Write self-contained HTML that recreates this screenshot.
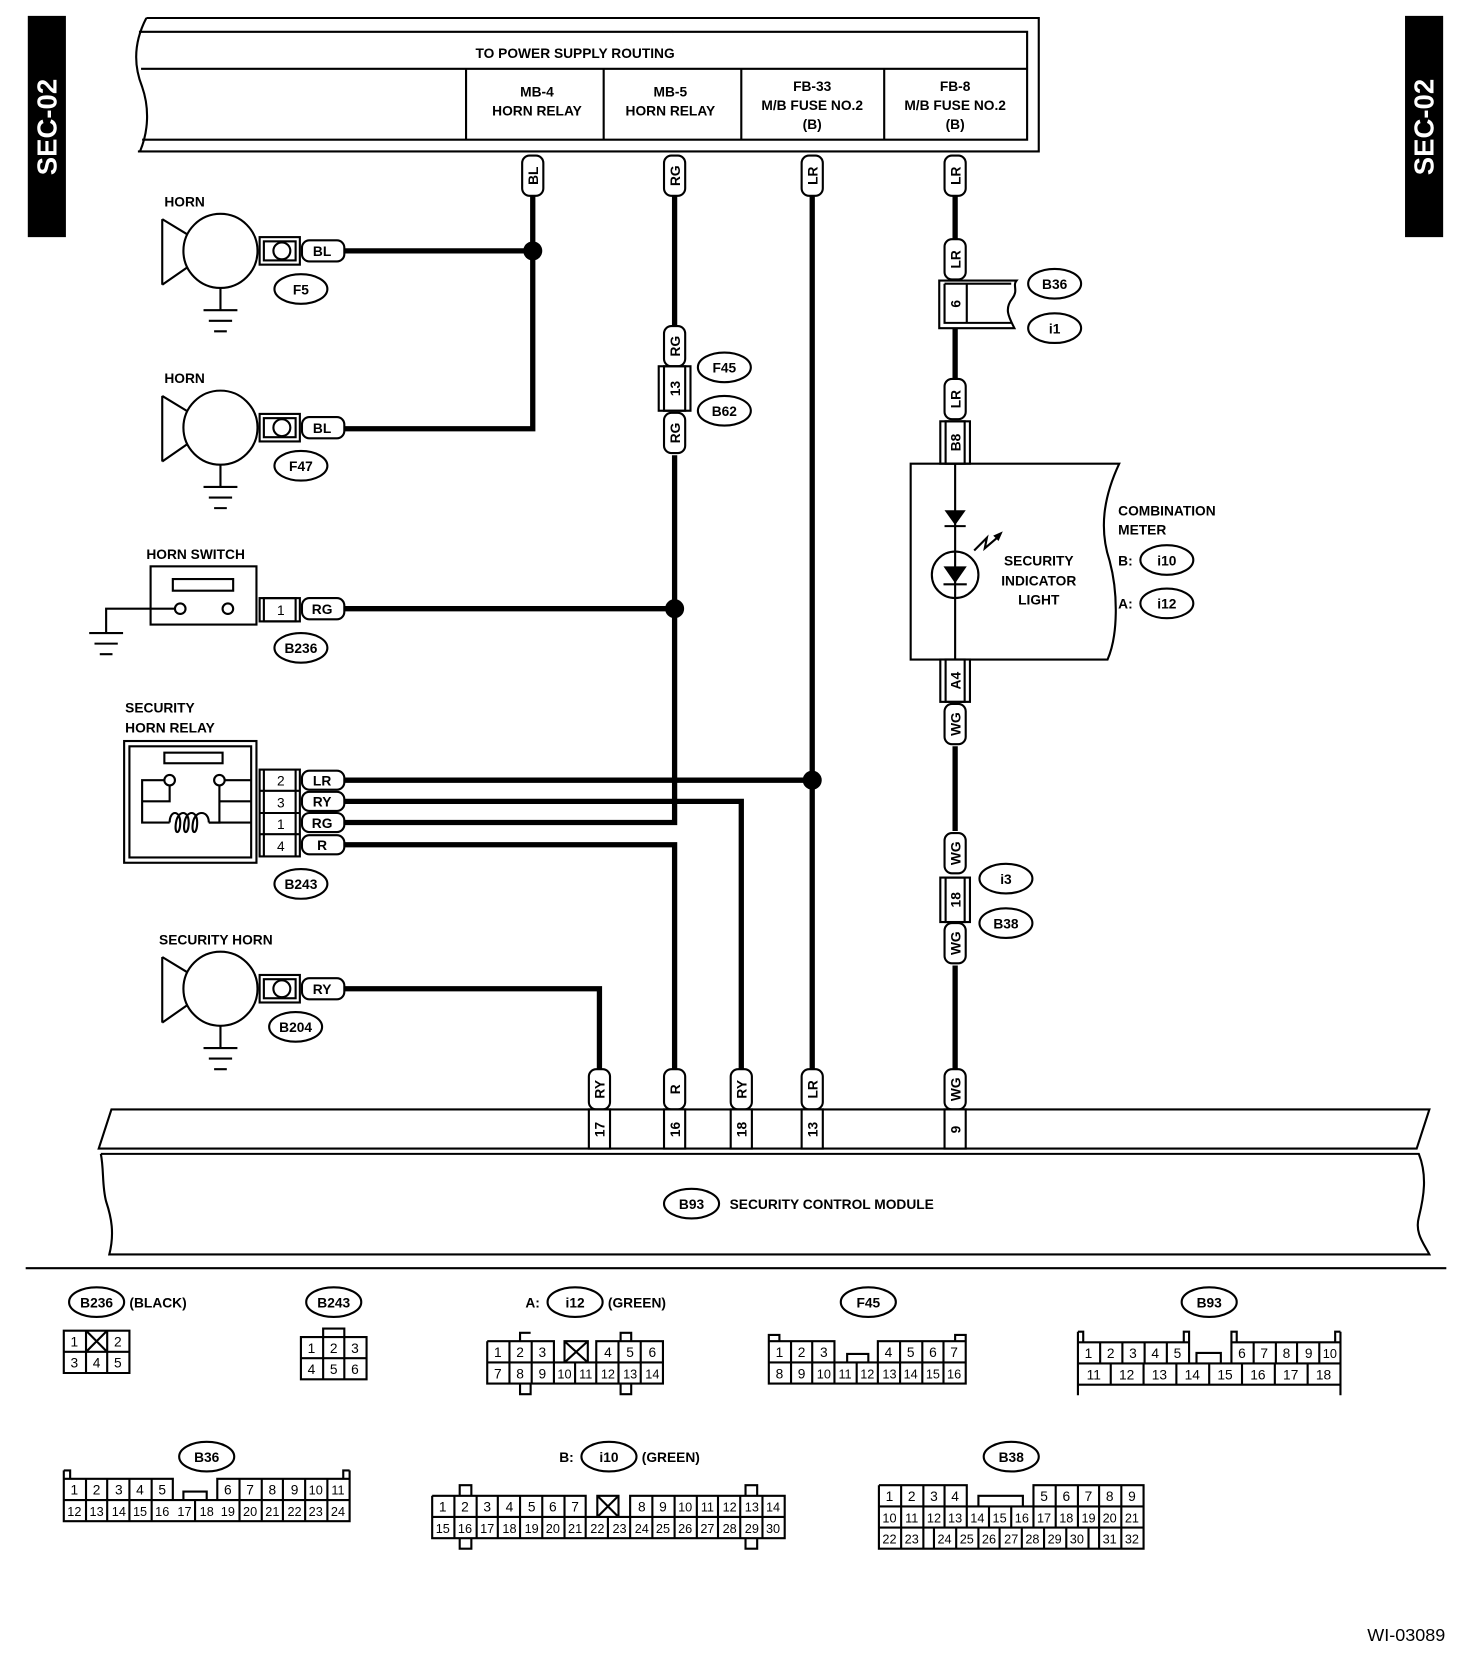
<!DOCTYPE html>
<html><head><meta charset="utf-8"><style>
html,body{margin:0;padding:0;background:#fff}
svg{display:block}
text{font-family:"Liberation Sans",sans-serif;font-size:14px;fill:#000;font-weight:bold}
.s{fill:none;stroke:#000;stroke-width:2}
.w{fill:none;stroke:#000;stroke-width:5}
.p{fill:#fff;stroke:#000;stroke-width:2}
.t{font-size:13px}
.c{font-size:13px;font-weight:normal}
</style></head><body>
<svg width="1472" height="1662" viewBox="0 0 1390 1570" xmlns="http://www.w3.org/2000/svg">
<defs>
<g id="horn">
<circle cx="0" cy="0" r="35" class="s"/>
<path class="s" d="M-55,-30 L-55,32 M-55,-30 L-32,-16 M-55,32 L-32,16 M0,35 L0,56 M-16,56 L16,56 M-11,66 L11,66 M-6,76 L6,76"/>
<rect x="37" y="-13" width="38" height="26" class="p"/>
<rect x="41" y="-9" width="30" height="18" class="s"/>
<circle cx="58" cy="0" r="8" class="s"/>
<rect x="77" y="-10" width="40" height="20" rx="7" class="p"/>
</g>
<rect id="pv" x="-10" y="0" width="20" height="38" rx="7" class="p"/>
</defs>

<rect x="26" y="15" width="36" height="209" fill="#000"/>
<text transform="translate(53,120) rotate(-90)" text-anchor="middle" style="font-size:26px;fill:#fff">SEC-02</text>
<rect x="1327" y="15" width="36" height="209" fill="#000"/>
<text transform="translate(1354,120) rotate(-90)" text-anchor="middle" style="font-size:26px;fill:#fff">SEC-02</text>

<path class="s" d="M138,17 L981,17 L981,143 L130,143 M138,17 C126,40 126,62 134,82 C141,102 140,124 132,143"/>
<path class="s" d="M131,30 L970,30 L970,132 L134,132 M133,65 L970,65 M440,65 L440,132 M570,65 L570,132 M700,65 L700,132 M835,65 L835,132"/>
<text x="543" y="55" text-anchor="middle" class="t">TO POWER SUPPLY ROUTING</text>
<text x="507" y="91" text-anchor="middle" class="t">MB-4</text><text x="507" y="109" text-anchor="middle" class="t">HORN RELAY</text>
<text x="633" y="91" text-anchor="middle" class="t">MB-5</text><text x="633" y="109" text-anchor="middle" class="t">HORN RELAY</text>
<text x="767" y="86" text-anchor="middle" class="t">FB-33</text><text x="767" y="104" text-anchor="middle" class="t">M/B FUSE NO.2</text><text x="767" y="122" text-anchor="middle" class="t">(B)</text>
<text x="902" y="86" text-anchor="middle" class="t">FB-8</text><text x="902" y="104" text-anchor="middle" class="t">M/B FUSE NO.2</text><text x="902" y="122" text-anchor="middle" class="t">(B)</text>

<path class="w" d="M503,185 L503,405 L325,405 M325,237 L503,237"/>
<path class="w" d="M637,185 L637,310 M637,430 L637,777 L325,777 M325,575 L637,575"/>
<path class="w" d="M767,185 L767,1010 M325,737 L767,737"/>
<path class="w" d="M325,757 L700,757 L700,1010"/>
<path class="w" d="M325,798 L637,798 L637,1010"/>
<path class="w" d="M325,934 L566,934 L566,1010"/>
<path class="w" d="M902,185 L902,228 M902,310 L902,358 M902,705 L902,785 M902,912 L902,1010"/>
<circle cx="503" cy="237" r="9"/><circle cx="637" cy="575" r="9"/><circle cx="767" cy="737" r="9"/>

<use href="#pv" x="503" y="147"/><text transform="translate(503,166) rotate(-90)" text-anchor="middle" dy="5" class="t">BL</text>
<use href="#pv" x="637" y="147"/><text transform="translate(637,166) rotate(-90)" text-anchor="middle" dy="5" class="t">RG</text>
<use href="#pv" x="767" y="147"/><text transform="translate(767,166) rotate(-90)" text-anchor="middle" dy="5" class="t">LR</text>
<use href="#pv" x="902" y="147"/><text transform="translate(902,166) rotate(-90)" text-anchor="middle" dy="5" class="t">LR</text>

<use href="#pv" x="637" y="308"/><text transform="translate(637,327) rotate(-90)" text-anchor="middle" dy="5" class="t">RG</text>
<rect x="622" y="346" width="30" height="42" class="p"/><rect x="627" y="346" width="20" height="42" class="s"/>
<text transform="translate(637,367) rotate(-90)" text-anchor="middle" dy="5" class="t">13</text>
<use href="#pv" x="637" y="390"/><text transform="translate(637,409) rotate(-90)" text-anchor="middle" dy="5" class="t">RG</text>
<ellipse cx="684" cy="347" rx="25" ry="14" class="s"/><text x="684" y="352" text-anchor="middle" class="t">F45</text>
<ellipse cx="684" cy="388" rx="25" ry="14" class="s"/><text x="684" y="393" text-anchor="middle" class="t">B62</text>

<use href="#pv" x="902" y="226"/><text transform="translate(902,245) rotate(-90)" text-anchor="middle" dy="5" class="t">LR</text>
<path class="s" d="M887,284 L887,310 L958,310 C953,300 948,292 956,282 C962,274 956,270 960,265 L887,265 Z"/>
<path class="s" d="M892,268 L892,305 L955,305 M892,268 L955,268 M913,268 L913,305"/>
<text transform="translate(902,287) rotate(-90)" text-anchor="middle" dy="5" class="t">6</text>
<ellipse cx="996" cy="268" rx="25" ry="14" class="s"/><text x="996" y="273" text-anchor="middle" class="t">B36</text>
<ellipse cx="996" cy="310" rx="25" ry="14" class="s"/><text x="996" y="315" text-anchor="middle" class="t">i1</text>
<use href="#pv" x="902" y="358"/><text transform="translate(902,377) rotate(-90)" text-anchor="middle" dy="5" class="t">LR</text>
<rect x="888" y="398" width="28" height="40" class="p"/><rect x="893" y="398" width="18" height="40" class="s"/>
<text transform="translate(902,418) rotate(-90)" text-anchor="middle" dy="5" class="t">B8</text>
<path class="s" d="M860,438 L1057,438 C1042,470 1038,500 1048,530 C1056,560 1056,600 1046,623 L860,623 Z"/>
<path class="s" d="M902,438 L902,623"/>
<path d="M892,482 L912,482 L902,496 Z"/><path class="s" d="M892,497 L912,497"/>
<circle cx="902" cy="543" r="22" class="s"/>
<path d="M891,535 L913,535 L902,551 Z"/><path class="s" d="M891,552 L913,552"/>
<path class="s" d="M920,520 L932,508 L930,518 L944,506"/><path d="M938,506 L947,502 L943,511 Z"/>
<text x="981" y="534" text-anchor="middle" class="t">SECURITY</text>
<text x="981" y="553" text-anchor="middle" class="t">INDICATOR</text>
<text x="981" y="571" text-anchor="middle" class="t">LIGHT</text>
<text x="1056" y="487" class="t">COMBINATION</text>
<text x="1056" y="505" class="t">METER</text>
<text x="1056" y="534" class="t">B:</text><ellipse cx="1102" cy="529" rx="25" ry="14" class="s"/><text x="1102" y="534" text-anchor="middle" class="t">i10</text>
<text x="1056" y="575" class="t">A:</text><ellipse cx="1102" cy="570" rx="25" ry="14" class="s"/><text x="1102" y="575" text-anchor="middle" class="t">i12</text>
<rect x="888" y="623" width="28" height="40" class="p"/><rect x="893" y="623" width="18" height="40" class="s"/>
<text transform="translate(902,643) rotate(-90)" text-anchor="middle" dy="5" class="t">A4</text>
<use href="#pv" x="902" y="665"/><text transform="translate(902,684) rotate(-90)" text-anchor="middle" dy="5" class="t">WG</text>
<use href="#pv" x="902" y="787"/><text transform="translate(902,806) rotate(-90)" text-anchor="middle" dy="5" class="t">WG</text>
<rect x="888" y="829" width="28" height="42" class="p"/><rect x="893" y="829" width="18" height="42" class="s"/>
<text transform="translate(902,850) rotate(-90)" text-anchor="middle" dy="5" class="t">18</text>
<use href="#pv" x="902" y="872"/><text transform="translate(902,891) rotate(-90)" text-anchor="middle" dy="5" class="t">WG</text>
<ellipse cx="950" cy="830" rx="25" ry="14" class="s"/><text x="950" y="835" text-anchor="middle" class="t">i3</text>
<ellipse cx="950" cy="872" rx="25" ry="14" class="s"/><text x="950" y="877" text-anchor="middle" class="t">B38</text>

<text x="155" y="195" class="t">HORN</text>
<use href="#horn" x="208" y="237"/><text x="304" y="242" text-anchor="middle" class="t">BL</text>
<ellipse cx="284" cy="273" rx="25" ry="14" class="s"/><text x="284" y="278" text-anchor="middle" class="t">F5</text>
<text x="155" y="362" class="t">HORN</text>
<use href="#horn" x="208" y="404"/><text x="304" y="409" text-anchor="middle" class="t">BL</text>
<ellipse cx="284" cy="440" rx="25" ry="14" class="s"/><text x="284" y="445" text-anchor="middle" class="t">F47</text>
<text x="150" y="892" class="t">SECURITY HORN</text>
<use href="#horn" x="208" y="934"/><text x="304" y="939" text-anchor="middle" class="t">RY</text>
<ellipse cx="279" cy="970" rx="25" ry="14" class="s"/><text x="279" y="975" text-anchor="middle" class="t">B204</text>

<text x="138" y="528" class="t">HORN SWITCH</text>
<rect x="142" y="535" width="100" height="55" class="s"/>
<rect x="163" y="547" width="57" height="11" class="s"/>
<circle cx="170" cy="575" r="5" class="s"/><circle cx="215" cy="575" r="5" class="s"/>
<path class="s" d="M165,575 L100,575 L100,598 M84,598 L116,598 M89,608 L111,608 M94,618 L106,618"/>
<rect x="245" y="565" width="38" height="22" class="p"/><rect x="249" y="565" width="30" height="22" class="s"/>
<text x="265" y="581" text-anchor="middle" class="c">1</text>
<rect x="285" y="565" width="40" height="20" rx="7" class="p"/><text x="304" y="580" text-anchor="middle" class="t">RG</text>
<ellipse cx="284" cy="612" rx="25" ry="14" class="s"/><text x="284" y="617" text-anchor="middle" class="t">B236</text>

<text x="118" y="673" class="t">SECURITY</text><text x="118" y="692" class="t">HORN RELAY</text>
<rect x="117" y="700" width="125" height="115" class="s"/>
<rect x="122" y="705" width="115" height="105" class="s"/>
<rect x="155" y="711" width="55" height="10" class="s"/>
<circle cx="160" cy="737" r="5" class="s"/><circle cx="207" cy="737" r="5" class="s"/>
<path class="s" d="M160,742 L160,757 L134,757 L134,777 L160,777 M155,737 L134,737 L134,757 M212,737 L237,737 M207,742 L207,757 M237,757 L207,757 L207,777 L197,777"/>
<path class="s" d="M160,777 C160,765 170,765 170,777 C170,789 164,789 166,777 C168,765 178,765 178,777 C178,789 172,789 174,777 C176,765 186,765 186,777 C186,789 180,789 182,777 C184,765 197,765 197,777 M197,777 L237,777"/>
<rect x="245" y="727" width="38" height="82" class="p"/><path class="s" d="M249,727 L249,809 M279,727 L279,809 M245,747 L283,747 M245,768 L283,768 M245,788 L283,788"/>
<text x="265" y="742" text-anchor="middle" class="c">2</text>
<text x="265" y="763" text-anchor="middle" class="c">3</text>
<text x="265" y="783" text-anchor="middle" class="c">1</text>
<text x="265" y="804" text-anchor="middle" class="c">4</text>
<rect x="285" y="728" width="40" height="18" rx="7" class="p"/><text x="304" y="742" text-anchor="middle" class="t">LR</text>
<rect x="285" y="748" width="40" height="18" rx="7" class="p"/><text x="304" y="762" text-anchor="middle" class="t">RY</text>
<rect x="285" y="768" width="40" height="18" rx="7" class="p"/><text x="304" y="782" text-anchor="middle" class="t">RG</text>
<rect x="285" y="789" width="40" height="18" rx="7" class="p"/><text x="304" y="803" text-anchor="middle" class="t">R</text>
<ellipse cx="284" cy="835" rx="25" ry="14" class="s"/><text x="284" y="840" text-anchor="middle" class="t">B243</text>

<use href="#pv" x="566" y="1010"/><text transform="translate(566,1029) rotate(-90)" text-anchor="middle" dy="5" class="t">RY</text>
<use href="#pv" x="637" y="1010"/><text transform="translate(637,1029) rotate(-90)" text-anchor="middle" dy="5" class="t">R</text>
<use href="#pv" x="700" y="1010"/><text transform="translate(700,1029) rotate(-90)" text-anchor="middle" dy="5" class="t">RY</text>
<use href="#pv" x="767" y="1010"/><text transform="translate(767,1029) rotate(-90)" text-anchor="middle" dy="5" class="t">LR</text>
<use href="#pv" x="902" y="1010"/><text transform="translate(902,1029) rotate(-90)" text-anchor="middle" dy="5" class="t">WG</text>

<path class="s" d="M105,1048 L1350,1048 L1338,1085 L93,1085 Z"/>
<path class="s" d="M95,1090 L1340,1090 C1348,1110 1345,1130 1340,1150 C1336,1165 1345,1175 1350,1185 L103,1185 C108,1165 105,1150 100,1135 C96,1120 98,1105 95,1090"/>
<rect x="556" y="1048" width="20" height="37" class="p"/><text transform="translate(566,1067) rotate(-90)" text-anchor="middle" dy="5" class="t">17</text>
<rect x="627" y="1048" width="20" height="37" class="p"/><text transform="translate(637,1067) rotate(-90)" text-anchor="middle" dy="5" class="t">16</text>
<rect x="690" y="1048" width="20" height="37" class="p"/><text transform="translate(700,1067) rotate(-90)" text-anchor="middle" dy="5" class="t">18</text>
<rect x="757" y="1048" width="20" height="37" class="p"/><text transform="translate(767,1067) rotate(-90)" text-anchor="middle" dy="5" class="t">13</text>
<rect x="892" y="1048" width="20" height="37" class="p"/><text transform="translate(902,1067) rotate(-90)" text-anchor="middle" dy="5" class="t">9</text>
<ellipse cx="653" cy="1137" rx="26" ry="14" class="s"/><text x="653" y="1142" text-anchor="middle" class="t">B93</text>
<text x="689" y="1142" class="t">SECURITY CONTROL MODULE</text>

<path d="M24,1198 L1366,1198" stroke="#000" stroke-width="2"/>

<g>
<ellipse cx="91" cy="1230" rx="26" ry="14" class="s"/><text x="91" y="1235" text-anchor="middle" class="t">B236</text>
<text x="122" y="1235" class="t">(BLACK)</text>
<path class="s" d="M60,1257 H122 V1297 H60 Z M60,1277 H122 M81,1257 V1297 M101,1257 V1297 M81,1257 L101,1277 M101,1257 L81,1277"/>
<text x="70" y="1272" text-anchor="middle" class="c">1</text><text x="111" y="1272" text-anchor="middle" class="c">2</text>
<text x="70" y="1292" text-anchor="middle" class="c">3</text><text x="91" y="1292" text-anchor="middle" class="c">4</text><text x="111" y="1292" text-anchor="middle" class="c">5</text>

<ellipse cx="315" cy="1230" rx="26" ry="14" class="s"/><text x="315" y="1235" text-anchor="middle" class="t">B243</text>
<path class="s" d="M284,1263 H346 V1303 H284 Z M284,1283 H346 M305,1263 V1303 M325,1263 V1303 M305,1263 V1255 H325 V1263"/>
<text x="294" y="1278" text-anchor="middle" class="c">1</text><text x="315" y="1278" text-anchor="middle" class="c">2</text><text x="335" y="1278" text-anchor="middle" class="c">3</text>
<text x="294" y="1298" text-anchor="middle" class="c">4</text><text x="315" y="1298" text-anchor="middle" class="c">5</text><text x="335" y="1298" text-anchor="middle" class="c">6</text>

<text x="496" y="1235" class="t">A:</text><ellipse cx="543" cy="1230" rx="26" ry="14" class="s"/><text x="543" y="1235" text-anchor="middle" class="t">i12</text><text x="574" y="1235" class="t">(GREEN)</text>
<path class="s" d="M460,1267 H523 V1287 M460,1267 V1307 H626 V1267 H563 V1287 M460,1287 H626 M481,1267 V1307 M502,1267 V1307 M523,1287 V1307 M543,1287 V1307 M563,1287 V1307 M584,1267 V1307 M605,1267 V1307 M533,1267 H555 V1287 H533 Z M533,1267 L555,1287 M555,1267 L533,1287 M491,1267 V1259 H501 M586,1267 V1259 H596 V1267 M491,1307 V1317 H501 V1307 M586,1307 V1317 H596 V1307"/>
<text x="470" y="1282" text-anchor="middle" class="c">1</text><text x="491" y="1282" text-anchor="middle" class="c">2</text><text x="512" y="1282" text-anchor="middle" class="c">3</text>
<text x="574" y="1282" text-anchor="middle" class="c">4</text><text x="595" y="1282" text-anchor="middle" class="c">5</text><text x="616" y="1282" text-anchor="middle" class="c">6</text>
<text x="470" y="1302" text-anchor="middle" class="c">7</text><text x="491" y="1302" text-anchor="middle" class="c">8</text><text x="512" y="1302" text-anchor="middle" class="c">9</text><text x="533" y="1302" text-anchor="middle" class="c" style="font-size:12px">10</text><text x="553" y="1302" text-anchor="middle" class="c" style="font-size:12px">11</text><text x="574" y="1302" text-anchor="middle" class="c" style="font-size:12px">12</text><text x="595" y="1302" text-anchor="middle" class="c" style="font-size:12px">13</text><text x="616" y="1302" text-anchor="middle" class="c" style="font-size:12px">14</text>

<ellipse cx="820" cy="1230" rx="26" ry="14" class="s"/><text x="820" y="1235" text-anchor="middle" class="t">F45</text>
<path class="s" d="M726,1267 H788 V1287 M726,1267 V1307 H912 V1267 H829 V1287 M726,1287 H912 M747,1267 V1307 M767,1267 V1307 M788,1287 V1307 M809,1287 V1307 M829,1287 V1307 M850,1267 V1307 M871,1267 V1307 M891,1267 V1307 M800,1287 V1279 H820 V1287 M726,1267 V1261 H736 V1267 M902,1267 V1261 H912 V1267"/>
<text x="736" y="1282" text-anchor="middle" class="c">1</text><text x="757" y="1282" text-anchor="middle" class="c">2</text><text x="778" y="1282" text-anchor="middle" class="c">3</text>
<text x="839" y="1282" text-anchor="middle" class="c">4</text><text x="860" y="1282" text-anchor="middle" class="c">5</text><text x="881" y="1282" text-anchor="middle" class="c">6</text><text x="901" y="1282" text-anchor="middle" class="c">7</text>
<text x="736" y="1302" text-anchor="middle" class="c">8</text><text x="757" y="1302" text-anchor="middle" class="c">9</text>
<text x="778" y="1302" text-anchor="middle" class="c" style="font-size:12px">10</text><text x="798" y="1302" text-anchor="middle" class="c" style="font-size:12px">11</text><text x="819" y="1302" text-anchor="middle" class="c" style="font-size:12px">12</text><text x="840" y="1302" text-anchor="middle" class="c" style="font-size:12px">13</text><text x="860" y="1302" text-anchor="middle" class="c" style="font-size:12px">14</text><text x="881" y="1302" text-anchor="middle" class="c" style="font-size:12px">15</text><text x="901" y="1302" text-anchor="middle" class="c" style="font-size:12px">16</text>

<ellipse cx="1142" cy="1230" rx="26" ry="14" class="s"/><text x="1142" y="1235" text-anchor="middle" class="t">B93</text>
<path class="s" d="M1018,1268 H1123 V1288 M1018,1258 V1318 M1266,1258 V1318 M1163,1288 V1268 H1266 M1018,1288 H1266 M1018,1308 H1266 M1039,1268 V1288 M1060,1268 V1288 M1081,1268 V1288 M1102,1268 V1288 M1184,1268 V1288 M1205,1268 V1288 M1225,1268 V1288 M1246,1268 V1288 M1049,1288 V1308 M1080,1288 V1308 M1111,1288 V1308 M1142,1288 V1308 M1173,1288 V1308 M1204,1288 V1308 M1235,1288 V1308 M1130,1288 V1278 H1153 V1288 M1018,1258 H1023 V1268 M1118,1268 V1258 H1123 V1268 M1163,1268 V1258 H1168 V1268 M1261,1268 V1258 H1266"/>
<text x="1028" y="1283" text-anchor="middle" class="c">1</text><text x="1049" y="1283" text-anchor="middle" class="c">2</text><text x="1070" y="1283" text-anchor="middle" class="c">3</text><text x="1091" y="1283" text-anchor="middle" class="c">4</text><text x="1112" y="1283" text-anchor="middle" class="c">5</text>
<text x="1173" y="1283" text-anchor="middle" class="c">6</text><text x="1194" y="1283" text-anchor="middle" class="c">7</text><text x="1215" y="1283" text-anchor="middle" class="c">8</text><text x="1236" y="1283" text-anchor="middle" class="c">9</text><text x="1256" y="1283" text-anchor="middle" class="c" style="font-size:12px">10</text>
<text x="1033" y="1303" text-anchor="middle" class="c">11</text><text x="1064" y="1303" text-anchor="middle" class="c">12</text><text x="1095" y="1303" text-anchor="middle" class="c">13</text><text x="1126" y="1303" text-anchor="middle" class="c">14</text><text x="1157" y="1303" text-anchor="middle" class="c">15</text><text x="1188" y="1303" text-anchor="middle" class="c">16</text><text x="1219" y="1303" text-anchor="middle" class="c">17</text><text x="1250" y="1303" text-anchor="middle" class="c">18</text>

<ellipse cx="195" cy="1376" rx="26" ry="14" class="s"/><text x="195" y="1381" text-anchor="middle" class="t">B36</text>
<path class="s" d="M60,1389 V1437 H330 V1389 M60,1397 H163 V1417 M205,1417 V1397 H330 M60,1417 H330 M81,1397 V1437 M101,1397 V1437 M122,1397 V1437 M143,1397 V1437 M184,1417 V1437 M226,1397 V1437 M247,1397 V1437 M267,1397 V1437 M288,1397 V1437 M309,1397 V1437 M173,1417 V1409 H195 V1417 M60,1389 H66 V1397 M324,1397 V1389 H330"/>
<text x="70" y="1412" text-anchor="middle" class="c">1</text><text x="91" y="1412" text-anchor="middle" class="c">2</text><text x="112" y="1412" text-anchor="middle" class="c">3</text><text x="132" y="1412" text-anchor="middle" class="c">4</text><text x="153" y="1412" text-anchor="middle" class="c">5</text>
<text x="215" y="1412" text-anchor="middle" class="c">6</text><text x="236" y="1412" text-anchor="middle" class="c">7</text><text x="257" y="1412" text-anchor="middle" class="c">8</text><text x="278" y="1412" text-anchor="middle" class="c">9</text><text x="298" y="1412" text-anchor="middle" class="c" style="font-size:12px">10</text><text x="319" y="1412" text-anchor="middle" class="c" style="font-size:12px">11</text>
<text x="70" y="1432" text-anchor="middle" class="c" style="font-size:12px">12</text><text x="91" y="1432" text-anchor="middle" class="c" style="font-size:12px">13</text><text x="112" y="1432" text-anchor="middle" class="c" style="font-size:12px">14</text><text x="132" y="1432" text-anchor="middle" class="c" style="font-size:12px">15</text><text x="153" y="1432" text-anchor="middle" class="c" style="font-size:12px">16</text><text x="174" y="1432" text-anchor="middle" class="c" style="font-size:12px">17</text><text x="195" y="1432" text-anchor="middle" class="c" style="font-size:12px">18</text><text x="215" y="1432" text-anchor="middle" class="c" style="font-size:12px">19</text><text x="236" y="1432" text-anchor="middle" class="c" style="font-size:12px">20</text><text x="257" y="1432" text-anchor="middle" class="c" style="font-size:12px">21</text><text x="278" y="1432" text-anchor="middle" class="c" style="font-size:12px">22</text><text x="298" y="1432" text-anchor="middle" class="c" style="font-size:12px">23</text><text x="319" y="1432" text-anchor="middle" class="c" style="font-size:12px">24</text>

<text x="528" y="1381" class="t">B:</text><ellipse cx="575" cy="1376" rx="26" ry="14" class="s"/><text x="575" y="1381" text-anchor="middle" class="t">i10</text><text x="606" y="1381" class="t">(GREEN)</text>
<path class="s" d="M408,1413 H553 V1433 M408,1413 V1453 H741 V1413 H595 V1433 M408,1433 H741 M429,1413 V1453 M450,1413 V1453 M470,1413 V1453 M491,1413 V1453 M512,1413 V1453 M533,1413 V1453 M553,1433 V1453 M574,1433 V1453 M595,1433 V1453 M616,1413 V1453 M637,1413 V1453 M658,1413 V1453 M678,1413 V1453 M699,1413 V1453 M720,1413 V1453 M564,1413 H584 V1433 H564 Z M564,1413 L584,1433 M584,1413 L564,1433 M434,1413 V1403 H445 V1413 M434,1453 V1463 H445 V1453 M704,1413 V1403 H715 V1413 M704,1453 V1463 H715 V1453"/>
<text x="418" y="1428" text-anchor="middle" class="c">1</text><text x="439" y="1428" text-anchor="middle" class="c">2</text><text x="460" y="1428" text-anchor="middle" class="c">3</text><text x="481" y="1428" text-anchor="middle" class="c">4</text><text x="502" y="1428" text-anchor="middle" class="c">5</text><text x="522" y="1428" text-anchor="middle" class="c">6</text><text x="543" y="1428" text-anchor="middle" class="c">7</text>
<text x="606" y="1428" text-anchor="middle" class="c">8</text><text x="626" y="1428" text-anchor="middle" class="c">9</text><text x="647" y="1428" text-anchor="middle" class="c" style="font-size:12px">10</text><text x="668" y="1428" text-anchor="middle" class="c" style="font-size:12px">11</text><text x="689" y="1428" text-anchor="middle" class="c" style="font-size:12px">12</text><text x="710" y="1428" text-anchor="middle" class="c" style="font-size:12px">13</text><text x="730" y="1428" text-anchor="middle" class="c" style="font-size:12px">14</text>
<text x="418" y="1448" text-anchor="middle" class="c" style="font-size:12px">15</text><text x="439" y="1448" text-anchor="middle" class="c" style="font-size:12px">16</text><text x="460" y="1448" text-anchor="middle" class="c" style="font-size:12px">17</text><text x="481" y="1448" text-anchor="middle" class="c" style="font-size:12px">18</text><text x="502" y="1448" text-anchor="middle" class="c" style="font-size:12px">19</text><text x="522" y="1448" text-anchor="middle" class="c" style="font-size:12px">20</text><text x="543" y="1448" text-anchor="middle" class="c" style="font-size:12px">21</text><text x="564" y="1448" text-anchor="middle" class="c" style="font-size:12px">22</text><text x="585" y="1448" text-anchor="middle" class="c" style="font-size:12px">23</text><text x="606" y="1448" text-anchor="middle" class="c" style="font-size:12px">24</text><text x="626" y="1448" text-anchor="middle" class="c" style="font-size:12px">25</text><text x="647" y="1448" text-anchor="middle" class="c" style="font-size:12px">26</text><text x="668" y="1448" text-anchor="middle" class="c" style="font-size:12px">27</text><text x="689" y="1448" text-anchor="middle" class="c" style="font-size:12px">28</text><text x="710" y="1448" text-anchor="middle" class="c" style="font-size:12px">29</text><text x="730" y="1448" text-anchor="middle" class="c" style="font-size:12px">30</text>

<ellipse cx="955" cy="1376" rx="26" ry="14" class="s"/><text x="955" y="1381" text-anchor="middle" class="t">B38</text>
<path class="s" d="M830,1403 H913 V1423 M830,1403 V1463 H1080 V1403 H976 V1423 M830,1423 H1080 M830,1443 H1080 M851,1403 V1423 M872,1403 V1423 M892,1403 V1423 M997,1403 V1423 M1018,1403 V1423 M1038,1403 V1423 M1059,1403 V1423 M851,1423 V1443 M872,1423 V1443 M892,1423 V1443 M913,1423 V1443 M934,1423 V1443 M955,1423 V1443 M976,1423 V1443 M997,1423 V1443 M1018,1423 V1443 M1038,1423 V1443 M1059,1423 V1443 M851,1443 V1463 M872,1443 V1463 M882,1443 V1463 M903,1443 V1463 M924,1443 V1463 M944,1443 V1463 M965,1443 V1463 M986,1443 V1463 M1007,1443 V1463 M1028,1443 V1463 M1038,1443 V1463 M1059,1443 V1463 M924,1423 V1413 H966 V1423"/>
<text x="840" y="1418" text-anchor="middle" class="c">1</text><text x="861" y="1418" text-anchor="middle" class="c">2</text><text x="882" y="1418" text-anchor="middle" class="c">3</text><text x="902" y="1418" text-anchor="middle" class="c">4</text>
<text x="986" y="1418" text-anchor="middle" class="c">5</text><text x="1007" y="1418" text-anchor="middle" class="c">6</text><text x="1028" y="1418" text-anchor="middle" class="c">7</text><text x="1048" y="1418" text-anchor="middle" class="c">8</text><text x="1069" y="1418" text-anchor="middle" class="c">9</text>
<text x="840" y="1438" text-anchor="middle" class="c" style="font-size:12px">10</text><text x="861" y="1438" text-anchor="middle" class="c" style="font-size:12px">11</text><text x="882" y="1438" text-anchor="middle" class="c" style="font-size:12px">12</text><text x="902" y="1438" text-anchor="middle" class="c" style="font-size:12px">13</text><text x="923" y="1438" text-anchor="middle" class="c" style="font-size:12px">14</text><text x="944" y="1438" text-anchor="middle" class="c" style="font-size:12px">15</text><text x="965" y="1438" text-anchor="middle" class="c" style="font-size:12px">16</text><text x="986" y="1438" text-anchor="middle" class="c" style="font-size:12px">17</text><text x="1007" y="1438" text-anchor="middle" class="c" style="font-size:12px">18</text><text x="1028" y="1438" text-anchor="middle" class="c" style="font-size:12px">19</text><text x="1048" y="1438" text-anchor="middle" class="c" style="font-size:12px">20</text><text x="1069" y="1438" text-anchor="middle" class="c" style="font-size:12px">21</text>
<text x="840" y="1458" text-anchor="middle" class="c" style="font-size:12px">22</text><text x="861" y="1458" text-anchor="middle" class="c" style="font-size:12px">23</text><text x="892" y="1458" text-anchor="middle" class="c" style="font-size:12px">24</text><text x="913" y="1458" text-anchor="middle" class="c" style="font-size:12px">25</text><text x="934" y="1458" text-anchor="middle" class="c" style="font-size:12px">26</text><text x="955" y="1458" text-anchor="middle" class="c" style="font-size:12px">27</text><text x="975" y="1458" text-anchor="middle" class="c" style="font-size:12px">28</text><text x="996" y="1458" text-anchor="middle" class="c" style="font-size:12px">29</text><text x="1017" y="1458" text-anchor="middle" class="c" style="font-size:12px">30</text><text x="1048" y="1458" text-anchor="middle" class="c" style="font-size:12px">31</text><text x="1069" y="1458" text-anchor="middle" class="c" style="font-size:12px">32</text>
</g>

<text x="1365" y="1550" text-anchor="end" style="font-size:17px;font-weight:normal">WI-03089</text>
</svg>
</body></html>
